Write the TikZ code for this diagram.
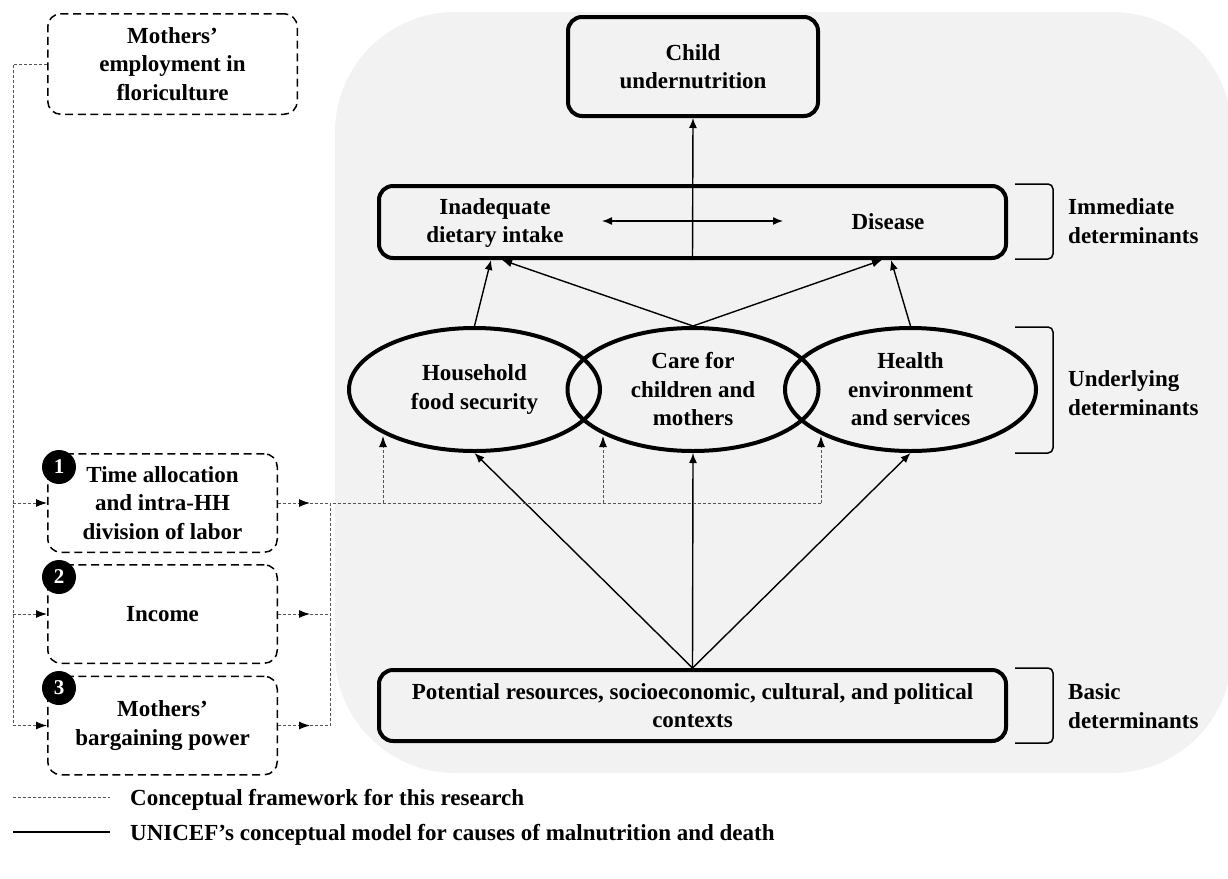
\documentclass[tikz,border=0pt]{standalone}
\usepackage{fontspec}
\setmainfont{Liberation Serif}
\usetikzlibrary{shapes,arrows.meta}
\definecolor{panelgray}{HTML}{F2F2F2}
\definecolor{linkgray}{HTML}{555555}

\begin{document}
\begin{tikzpicture}[x=1pt,y=-1pt,
  every node/.style={font=\fontsize{23}{28.5}\selectfont\bfseries, align=center, inner sep=0pt},
  unibox/.style={draw, line width=4pt, rounded corners=14pt},
  unioval/.style={draw, ellipse, line width=4pt, minimum width=251pt, minimum height=123pt},
  framebox/.style={draw, line width=1.5pt, dash pattern=on 8pt off 4.7pt, rounded corners=13pt},
  numdot/.style={circle, fill=black, text=white, minimum size=34pt, font=\fontsize{21}{21}\selectfont\bfseries},
  levelname/.style={anchor=west, align=left},
  solidarrow/.style={line width=1.4pt, -{Latex[length=10pt,width=8pt]}},
  dotlink/.style={linkgray, line width=1pt, dash pattern=on 3pt off 2pt},
  dotarrow/.style={dotlink, -{Latex[length=11pt,width=8pt,color=black]}},
  bracket/.style={line width=1.5pt, rounded corners=5pt}
]
\useasboundingbox (0,0) rectangle (1228,878);
\fill[panelgray, rounded corners=120pt] (335,12) rectangle (1232,773);

% UNICEF model
\node[unibox, minimum width=250pt, minimum height=99pt] (child) at (693,66.5) {Child\\undernutrition};
\node[unibox, minimum width=627pt, minimum height=72pt] (immed) at (692.5,222) {};
\node (intake) at (495,223) {Inadequate\\dietary intake};
\node (disease) at (888,222) {Disease};
\node[unioval] (food) at (474.5,389.5) {Household\\food security};
\node[unioval] (care) at (693,389.5) {Care for\\children and\\mothers};
\node[unioval] (health) at (910.5,389.5) {Health\\environment\\and services};
\node[unibox, minimum width=627pt, minimum height=71pt] (basic) at (692.5,705.5)
  {Potential resources, socioeconomic, cultural, and political\\contexts};

\node[levelname] (lvimm) at (1068,221) {Immediate\\determinants};
\node[levelname] (lvund) at (1068,393) {Underlying\\determinants};
\node[levelname] (lvbas) at (1068,706) {Basic\\determinants};
\foreach \ya/\yb in {184/259, 327/453, 668/743}
  \draw[bracket] (1015,\ya) -- (1053,\ya) -- (1053,\yb) -- (1015,\yb);

\coordinate (in1) at (491,260);
\coordinate (in2) at (502,260);
\coordinate (ds1) at (882,260);
\coordinate (ds2) at (891,260);
\draw[solidarrow] (immed.south) -- (child.south);
\draw[line width=1.4pt, {Latex[length=10pt,width=8pt]}-{Latex[length=10pt,width=8pt]}] (602,221) -- (783,221);
\draw[solidarrow] (food.north) -- (in1);
\draw[solidarrow] (care.north) -- (in2);
\draw[solidarrow] (care.north) -- (ds1);
\draw[solidarrow] (health.north) -- (ds2);
\foreach \t in {food,care,health}
  \draw[solidarrow] (basic.north) -- (\t.south);

% research framework
\node[framebox, minimum width=249.5pt, minimum height=100.5pt] (employ) at (172.5,64) {Mothers’\\employment in\\floriculture};
\node[framebox, minimum width=229.5pt, minimum height=98.5pt] (time) at (162.5,503) {Time allocation\\and intra-HH\\division of labor};
\node[framebox, minimum width=229.5pt, minimum height=98.5pt] (income) at (162.5,614) {Income};
\node[framebox, minimum width=229.5pt, minimum height=98.5pt] (power) at (162.5,725.5) {Mothers’\\bargaining power};
\node[numdot] (n1) at (59,467) {1};
\node[numdot] (n2) at (59,577) {2};
\node[numdot] (n3) at (59,688) {3};

\draw[dotlink] (employ.west) -- ++(-34,0) coordinate (ltop) -- (ltop |- power.west);
\foreach \b in {time,income,power}
  \draw[dotarrow] (ltop |- \b.west) -- (\b.west);

\coordinate (join) at (330,503);
\foreach \b in {time,income,power} {
  \draw[dotarrow] (\b.east) -- ++(32,0);
  \draw[dotlink] (\b.east) ++(32,0) -- (join |- \b.east);
}
\draw[dotlink] (join |- power.east) -- (join) -- (821,503);
\foreach \x in {383,603,821}
  \draw[dotarrow] (\x,503) -- (\x,436);

% legend
\draw[dotlink] (13,797) -- (110,797);
\node[anchor=base west] (keyframe) at (130,805) {Conceptual framework for this research};
\draw[line width=1.5pt] (13,832) -- (110,832);
\node[anchor=base west] (keyunicef) at (130,840) {UNICEF’s conceptual model for causes of malnutrition and death};
\end{tikzpicture}
\end{document}
